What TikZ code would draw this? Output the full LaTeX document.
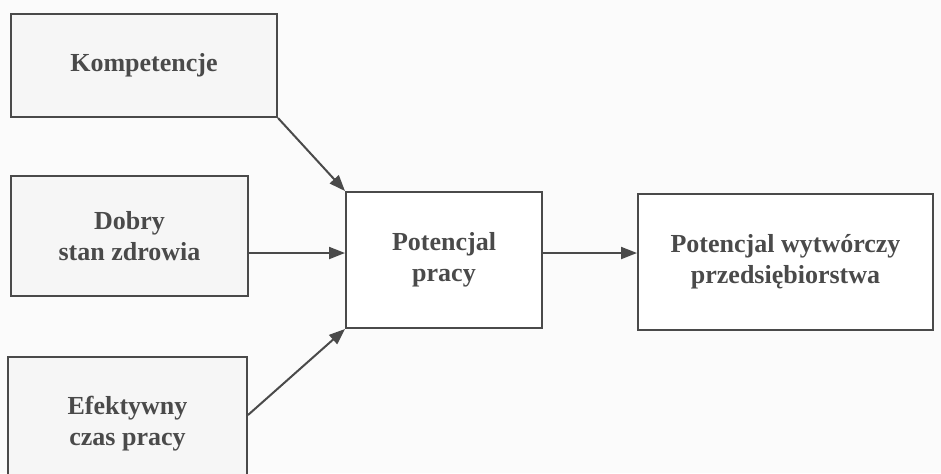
\documentclass[tikz,border=0pt]{standalone}
\usepackage{fontspec}
\setmainfont{Liberation Serif}
\usepackage{xcolor}
\usetikzlibrary{shapes,arrows.meta,positioning}
\definecolor{inkgray}{HTML}{4A4A4A}
\definecolor{paper}{HTML}{FBFBFB}

\begin{document}
\begin{tikzpicture}[x=0.5pt,y=-0.5pt,font=\fontsize{13}{15.5}\selectfont\bfseries,box/.style={draw=inkgray,line width=1pt,text=inkgray,align=center,inner sep=0pt,fill=white},arr/.style={draw=inkgray,line width=1pt,-{Triangle[length=8pt,width=6pt]}}]
    % canvas, the lower box runs off the page
    \useasboundingbox (0,0) rectangle (941,473);
    \clip (0,0) rectangle (941,473);
    \fill[paper] (0,0) rectangle (941,473);
    % input boxes
    \node[box,fill=gray!7,minimum width=133pt,minimum height=51.5pt] at (144,65.5) (komp) {Kompetencje};
    \node[box,fill=gray!7,minimum width=118.5pt,minimum height=60pt] at (129.5,236) (zdrowie) {Dobry\\stan zdrowia};
    \node[box,fill=gray!7,minimum width=119.5pt,minimum height=67pt] at (127.5,424) (czas) {Efektywny\\czas pracy};
    % result boxes
    \node[box,minimum width=98pt,minimum height=68pt] at (444,260) (praca) {Potencjal\\pracy};
    \node[box,minimum width=147.5pt,minimum height=68pt] at (785.5,262) (firma) {Potencjal wytwórczy\\przedsiębiorstwa};
    
    \draw[arr] (komp.south east) -- (praca.north west);
    \draw[arr] ([yshift=-8.5pt]zdrowie.east) -- ([yshift=3.5pt]praca.west);
    \draw[arr] ([yshift=4.5pt]czas.east) -- (praca.south west);
    \draw[arr] ([yshift=3.5pt]praca.east) -- ([yshift=4.5pt]firma.west);
\end{tikzpicture}
\end{document}
